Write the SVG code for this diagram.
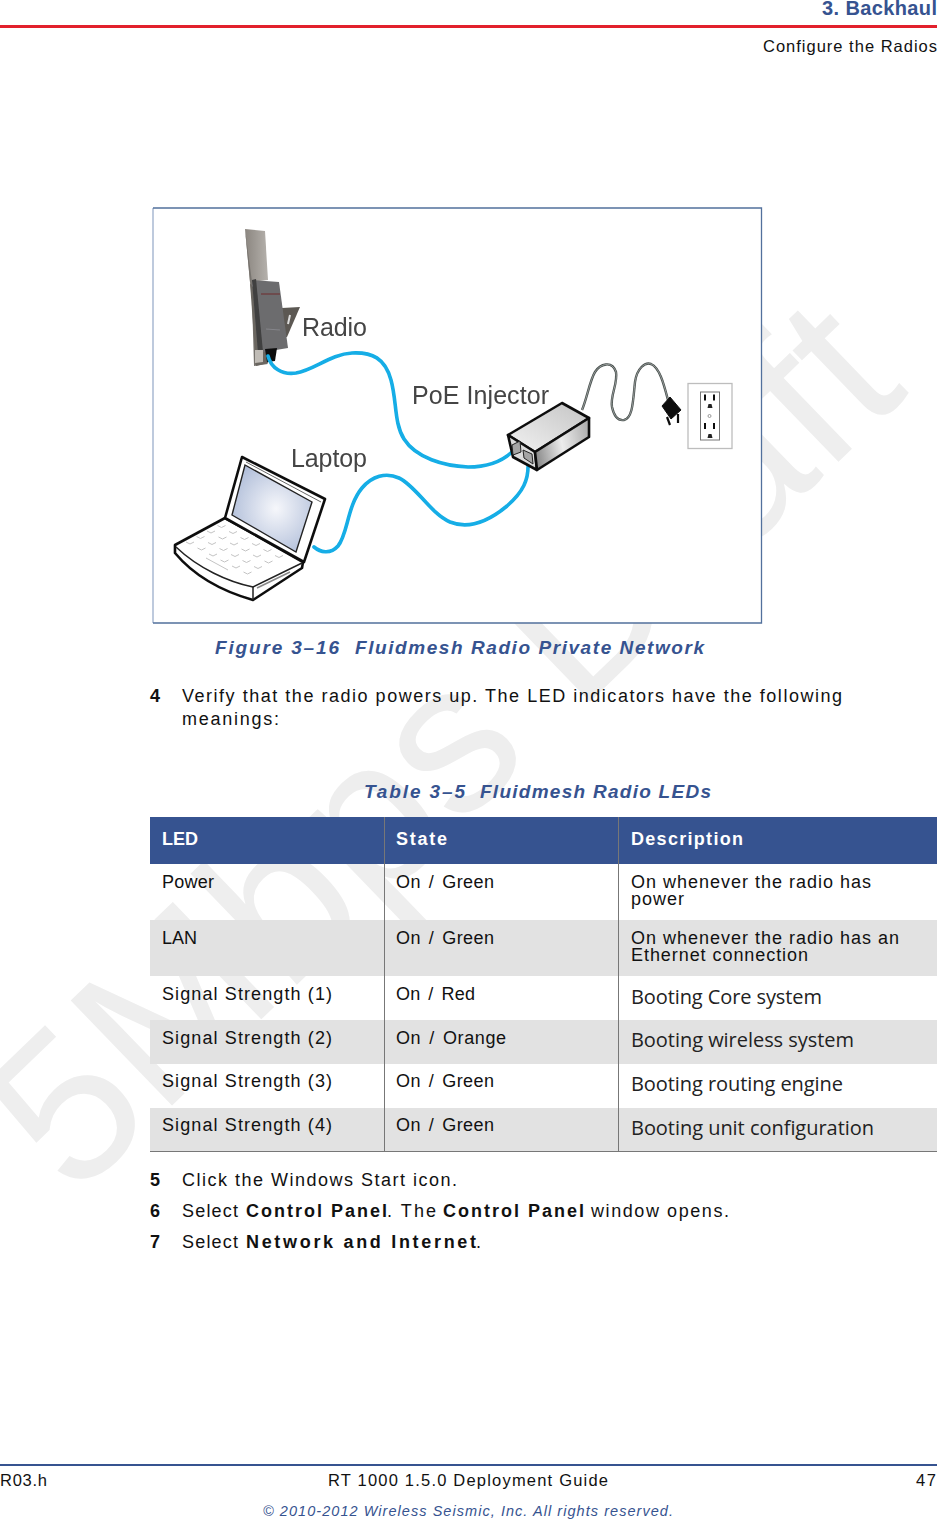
<svg xmlns="http://www.w3.org/2000/svg" width="937" height="1519" viewBox="0 0 937 1519">
<style>
text{font-family:"Liberation Sans",Arial,sans-serif;font-size:18px;fill:#111;white-space:pre}
.b{font-weight:bold}
.s{font-size:16.500px}
.on{word-spacing:2.500px}
.cap{font-weight:bold;font-style:italic;fill:#365390;font-size:19px}
.hd{font-weight:bold;fill:#fff;font-size:18px}
.cal{font-family:"Open Sans","Noto Sans",sans-serif;font-size:20px;fill:#222}
.fig{font-size:25px;fill:#444}
.cable{fill:none;stroke:#12ade6;stroke-width:3.6;stroke-linecap:round}
.key{fill:none;stroke:#c4c4c4;stroke-width:1}
.ol{stroke:#111;stroke-width:2.6;stroke-linejoin:round}
</style>
<defs>
<filter id="soft" x="-5%" y="-5%" width="110%" height="110%"><feGaussianBlur stdDeviation="0.65"/></filter>
<linearGradient id="ant" x1="0" x2="1" y1="0" y2="0"><stop offset="0" stop-color="#8b8680"/><stop offset="1" stop-color="#b5b1ac"/></linearGradient>
<linearGradient id="side" x1="0" x2="1" y1="0.6" y2="0.4"><stop offset="0" stop-color="#8c8c8c"/><stop offset="0.5" stop-color="#ececec"/><stop offset="1" stop-color="#b0b0b0"/></linearGradient>
<linearGradient id="topf" x1="0" x2="1" y1="1" y2="0"><stop offset="0" stop-color="#f2f2f2"/><stop offset="1" stop-color="#c4c4c4"/></linearGradient>
<radialGradient id="scr" cx="0.55" cy="0.5" r="0.62"><stop offset="0" stop-color="#f6f7fb"/><stop offset="1" stop-color="#aebcd8"/></radialGradient>
</defs>

<g id="watermark">
<text transform="translate(74 1200) rotate(-44)" style="font-size:212px;fill:#eeeeee;letter-spacing:0.800px">5Mbps Draft</text>
</g>

<g id="header">
<text x="822" y="15" class="b" style="font-size:20px;fill:#365390" textLength="115">3. Backhaul</text>
<rect x="0" y="25" width="937" height="3" fill="#e2202c"/>
<text x="763" y="52" class="s" textLength="174">Configure the Radios</text>
</g>

<g id="figure">
<rect x="153" y="208" width="608" height="415" fill="#fff"/>
<path d="M153 623V208" fill="none" stroke="#a9b9d2" stroke-width="1.5"/>
<path d="M153 208H761.500V623H153" fill="none" stroke="#52709c" stroke-width="1.3"/>
<g filter="url(#soft)">
<g id="radio">
<path d="M245 229L265 231L268 280L250 282Z" fill="url(#ant)"/>
<path d="M245 229L250 282L252 300L254 366L268 364L258 353L252 282Z" fill="#77736e"/>
<path d="M250 283L256 366L268 363L262 300Z" fill="#6a6660"/>
<path d="M282 308L300 307L287 337L283 337Z" fill="#5c5852"/>
<path d="M290 315L288 324" stroke="#ddd" stroke-width="2"/>
<path d="M252 280L279 282L288 348L258 353Z" fill="#6c6c6e"/>
<path d="M252 280L256 279L263 352L258 353Z" fill="#3f3f3f"/>
<path d="M261 294L280 294" stroke="#6e3c3c" stroke-width="1.300"/>
<path d="M266 329L280 330" stroke="#85858a" stroke-width="1"/>
<path d="M255 350L263 350L263 362L255 363Z" fill="#c0bcb6"/>
<path d="M265 349L277 348L275 361L267 362Z" fill="#111"/>
</g>
<g id="cables">
<path class="cable" d="M268 356C271 368 282 375 296 373C314 370 331 354 352 353C372 352 385 358 391 380C397 402 394 423 404 439C416 458 444 466 468 467C487 467 501 462 512 452"/>
<path class="cable" d="M314 547C320 552 330 555 338 546C348 534 347 506 362 488C372 476 386 472 399 478C416 486 430 513 450 522C470 530 490 520 507 506C523 492 529 480 528 462"/>
</g>
<g id="injector">
<path class="ol" d="M508 435L562 403L589 418L535 452Z" fill="url(#topf)"/>
<path class="ol" d="M508 435L535 452L537 470L513 457Z" fill="#dcdcdc"/>
<path class="ol" d="M535 452L589 418L589 437L537 470Z" fill="url(#side)"/>
<path d="M512 445L520 441L521 452L513 455Z" fill="#a5a5a5" stroke="#222"/>
<path d="M523 450L532 454L533 464L524 458Z" fill="#a5a5a5" stroke="#222"/>
<path d="M582 410C587 398 590 380 595 372C600 364 612 360 616 372C618 384 610 395 612 407C614 416 618 421 624 420C633 418 633 400 635 382C637 368 645 362 651 364C660 368 664 385 668 400" fill="none" stroke="#474e4c" stroke-width="2.400"/>
<path d="M582 410C587 398 590 380 595 372C600 364 612 360 616 372C618 384 610 395 612 407C614 416 618 421 624 420C633 418 633 400 635 382C637 368 645 362 651 364C660 368 664 385 668 400" fill="none" stroke="#b8bdbb" stroke-width="0.700"/>
<path d="M662 406L670 397L681 410L671 419Z" fill="#111" stroke="#111"/>
<path d="M667 417L670 425M678 414L678 423" stroke="#111" stroke-width="2.200"/>
</g>
<g id="outlet">
<rect x="688" y="383.500" width="44" height="65" fill="#fff" stroke="#bdbdbd" stroke-width="1.300"/>
<rect x="700.500" y="392" width="19" height="48" fill="#fff" stroke="#777"/>
<path d="M705 394.500v6M714 394.500v6M705 423v6M714 423v6" stroke="#111" stroke-width="2"/>
<path d="M707.500 408h5l-1-4h-3ZM707.500 438h5l-1-4h-3Z" fill="#222"/>
<circle cx="709.500" cy="416" r="1.500" fill="none" stroke="#999"/>
</g>
<g id="laptop">
<path class="ol" d="M175 545L225 518L303 562L302 568L253 600C225 592 195 577 175 553Z" fill="#fff" stroke-width="3"/>
<path d="M176 547C198 568 228 582 253 587L302 563" fill="none" stroke="#222" stroke-width="1.500"/>
<path d="M253 587L253 600" stroke="#222" stroke-width="1.500"/>
<path d="M257 588L290 572" stroke="#888" stroke-width="1.500"/>
<path class="ol" d="M242 457L325 499L304 562L225 518Z" fill="#fff" stroke-width="3"/>
<path d="M246 462L321 502" stroke="#666"/>
<path d="M245 465L312 502L296 552L232 515Z" fill="url(#scr)" stroke="#222" stroke-width="1.400"/>
<path class="key" d="M186 542l4 2l4-2M197.500 548l4 2l4-2M209 554l4 2l4-2M220.500 560l4 2l4-2M232 566l4 2l4-2M243.500 572l4 2l4-2M196.500 536.500l4 2l4-2M208 542.500l4 2l4-2M219.500 548.500l4 2l4-2M231 554.500l4 2l4-2M242.500 560.500l4 2l4-2M254 566.500l4 2l4-2M207 531l4 2l4-2M218.500 537l4 2l4-2M230 543l4 2l4-2M241.500 549l4 2l4-2M253 555l4 2l4-2M264.500 561l4 2l4-2M217.500 525.500l4 2l4-2M229 531.500l4 2l4-2M240.500 537.500l4 2l4-2M252 543.500l4 2l4-2M263.500 549.500l4 2l4-2M275 555.500l4 2l4-2M206 558l22 12"/>
</g>
<text x="302" y="336" class="fig" textLength="65">Radio</text>
<text x="412" y="404" class="fig" textLength="137">PoE Injector</text>
<text x="291" y="467" class="fig" textLength="76">Laptop</text>
</g>
</g>

<g id="body">
<text x="215" y="654" class="cap"><tspan textLength="124">Figure 3–16</tspan><tspan x="355" textLength="349">Fluidmesh Radio Private Network</tspan></text>
<text x="150" y="702" class="b">4</text>
<text x="182" y="702" textLength="660">Verify that the radio powers up. The LED indicators have the following</text>
<text x="182" y="725" textLength="97">meanings:</text>
<text x="364" y="798" class="cap"><tspan textLength="101">Table 3–5</tspan><tspan x="480" textLength="231">Fluidmesh Radio LEDs</tspan></text>
</g>

<g id="table">
<rect x="150" y="817" width="787" height="47" fill="#365390"/>
<rect x="150" y="920" width="787" height="56" fill="#e2e2e2"/>
<rect x="150" y="1020" width="787" height="44" fill="#e2e2e2"/>
<rect x="150" y="1108" width="787" height="44" fill="#e2e2e2"/>
<path d="M384.500 817V1152M618.500 817V1152" stroke="#777"/>
<path d="M150 1151.500H937" stroke="#777"/>
<text x="162" y="845" class="hd" textLength="36">LED</text>
<text x="396" y="845" class="hd" textLength="51">State</text>
<text x="631" y="845" class="hd" textLength="112">Description</text>
<text x="162" y="888" textLength="52">Power</text>
<text x="396" y="888" class="on" textLength="98">On / Green</text>
<text x="631" y="888" textLength="240">On whenever the radio has</text>
<text x="631" y="905" textLength="53">power</text>
<text x="162" y="944" textLength="35">LAN</text>
<text x="396" y="944" class="on" textLength="98">On / Green</text>
<text x="631" y="944" textLength="268">On whenever the radio has an</text>
<text x="631" y="961" textLength="177">Ethernet connection</text>
<text x="162" y="1000" textLength="170">Signal Strength (1)</text>
<text x="396" y="1000" class="on" textLength="79">On / Red</text>
<text x="631" y="1004" class="cal" textLength="191">Booting Core system</text>
<text x="162" y="1044" textLength="170">Signal Strength (2)</text>
<text x="396" y="1044" class="on" textLength="110">On / Orange</text>
<text x="631" y="1047" class="cal" textLength="223">Booting wireless system</text>
<text x="162" y="1087" textLength="170">Signal Strength (3)</text>
<text x="396" y="1087" class="on" textLength="98">On / Green</text>
<text x="631" y="1091" class="cal" textLength="212">Booting routing engine</text>
<text x="162" y="1131" textLength="170">Signal Strength (4)</text>
<text x="396" y="1131" class="on" textLength="98">On / Green</text>
<text x="631" y="1135" class="cal" textLength="243">Booting unit configuration</text>
</g>

<g id="steps">
<text x="150" y="1186" class="b">5</text>
<text x="182" y="1186" textLength="275">Click the Windows Start icon.</text>
<text x="150" y="1217" class="b">6</text>
<text x="182" y="1217"><tspan textLength="56">Select</tspan><tspan x="246" class="b" textLength="141">Control Panel</tspan><tspan x="387" textLength="49">. The</tspan><tspan x="443" class="b" textLength="141">Control Panel</tspan><tspan x="591" textLength="138">window opens.</tspan></text>
<text x="150" y="1248" class="b">7</text>
<text x="182" y="1248"><tspan textLength="56">Select</tspan><tspan x="246" class="b" textLength="230">Network and Internet</tspan><tspan x="476">.</tspan></text>
</g>

<g id="footer">
<rect x="0" y="1464" width="937" height="2" fill="#365390"/>
<text x="0" y="1486" class="s" textLength="47">R03.h</text>
<text x="328" y="1486" class="s" textLength="280">RT 1000 1.5.0 Deployment Guide</text>
<text x="916" y="1486" class="s" textLength="20">47</text>
<text x="263" y="1516" style="font-size:14.500px;font-style:italic;fill:#365390" textLength="410">© 2010-2012 Wireless Seismic, Inc. All rights reserved.</text>
</g>
</svg>
